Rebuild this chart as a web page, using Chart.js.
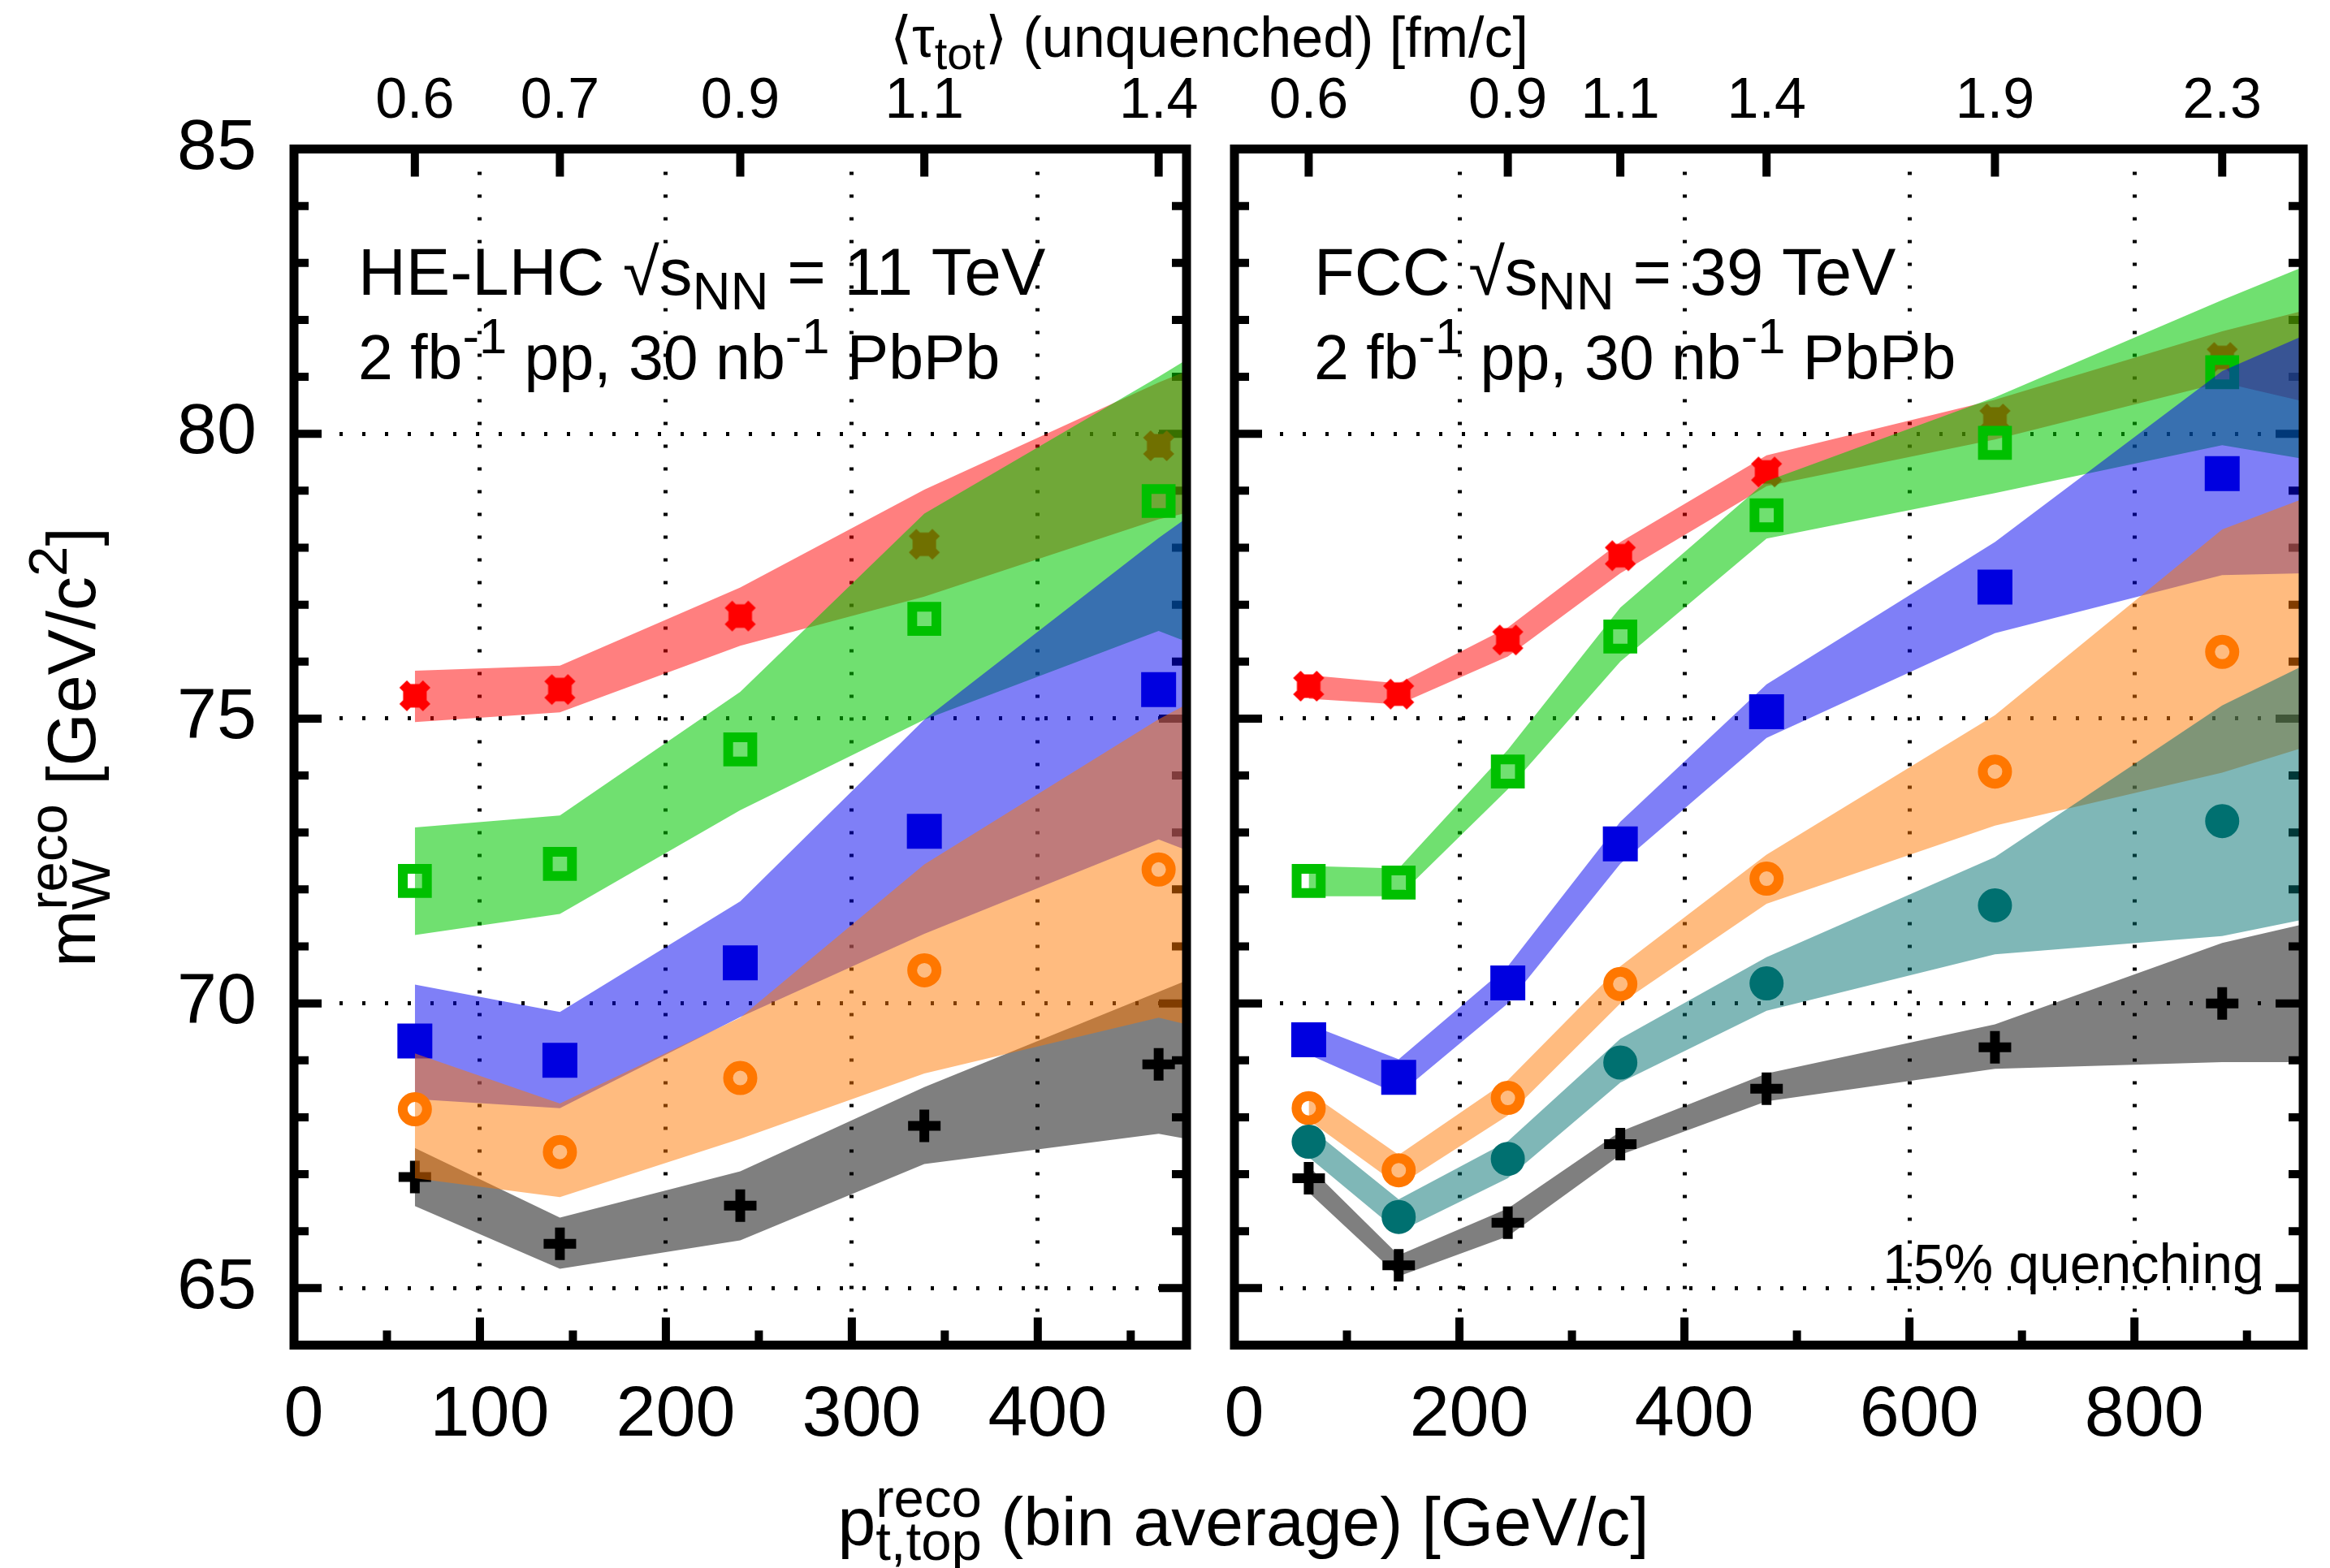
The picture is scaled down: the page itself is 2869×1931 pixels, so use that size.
<!DOCTYPE html>
<html><head><meta charset="utf-8">
<script src="https://cdn.jsdelivr.net/npm/chart.js@4.4.1/dist/chart.umd.min.js"></script>
<style>
html,body{margin:0;padding:0;background:#fff;}
#wrap{position:relative;width:2869px;height:1931px;background:#fff;}
canvas{position:absolute;left:0;top:0;}
</style></head><body>
<div id="wrap"><canvas id="cL" width="2869" height="1931"></canvas><canvas id="cR" width="2869" height="1931"></canvas></div>
<script>
// ---------------- DATA ----------------
const yTicks = [65, 70, 75, 80, 85];
// HE-LHC panel
const heX = [65, 143, 240, 339, 465];
const heBandX = [65, 143, 240, 339, 465, 480];
const heTauPos = [65, 143, 240, 339, 465];
const heTauLab = ['0.6', '0.7', '0.9', '1.1', '1.4'];
const heXTicks = [0, 100, 200, 300, 400];
const heRed    = [75.40, 75.51, 76.80, 78.06, 79.79];
const heGreen  = [72.15, 72.45, 74.46, 76.75, 78.82];
const heBlue   = [69.34, 69.00, 70.71, 73.02, 75.51];
const heOrange = [68.14, 67.39, 68.69, 70.58, 72.35];
const heBlack  = [66.95, 65.78, 66.45, 67.85, 68.93];
const heRedLo    = [74.94, 75.11, 76.28, 77.14, 78.50, 78.61];
const heRedHi    = [75.84, 75.93, 77.30, 79.02, 80.90, 81.10];
const heGreenLo  = [71.20, 71.57, 73.39, 74.98, 76.54, 76.35];
const heGreenHi  = [73.09, 73.30, 75.47, 78.60, 81.00, 81.30];
const heBlueLo   = [68.32, 68.16, 69.76, 71.22, 72.88, 72.69];
const heBlueHi   = [70.33, 69.85, 71.79, 74.98, 78.17, 78.52];
const heOrangeLo = [66.93, 66.60, 67.62, 68.77, 69.75, 69.63];
const heOrangeHi = [69.12, 68.24, 69.75, 72.44, 74.99, 75.25];
const heGrayLo   = [66.44, 65.34, 65.84, 67.18, 67.71, 67.62];
const heGrayHi   = [67.46, 66.24, 67.05, 68.53, 70.20, 70.40];
// FCC panel
const fcX = [66, 146, 243, 343, 473, 676, 878];
const fcBandX = [66, 146, 243, 343, 473, 676, 878, 950];
const fcTauPos = [66, 243, 343, 473, 676, 878];
const fcTauLab = ['0.6', '0.9', '1.1', '1.4', '1.9', '2.3'];
const fcXTicks = [0, 200, 400, 600, 800];
const fcRed    = [75.57, 75.43, 76.38, 77.86, 79.33, 80.26, 81.34];
const fcGreen  = [72.15, 72.12, 74.07, 76.44, 78.57, 79.84, 81.08];
const fcBlue   = [69.36, 68.70, 70.36, 72.80, 75.12, 77.31, 79.30];
const fcOrange = [68.16, 67.07, 68.34, 70.34, 72.19, 74.07, 76.17];
const fcTeal   = [67.57, 66.25, 67.27, 68.96, 70.35, 71.72, 73.20];
const fcBlack  = [66.93, 65.40, 66.15, 67.53, 68.50, 69.23, 70.00];
const fcRedLo    = [75.35, 75.25, 76.09, 77.55, 79.08, 79.90, 80.90, 80.57];
const fcRedHi    = [75.76, 75.62, 76.60, 78.10, 79.62, 80.60, 81.80, 82.16];
const fcGreenLo  = [71.88, 71.88, 73.76, 76.00, 78.16, 78.96, 79.80, 79.56];
const fcGreenHi  = [72.41, 72.37, 74.45, 76.95, 79.17, 80.64, 82.35, 82.93];
const fcBlueLo   = [69.10, 68.40, 70.00, 72.45, 74.66, 76.50, 77.52, 77.55];
const fcBlueHi   = [69.63, 69.02, 70.65, 73.19, 75.60, 78.10, 81.10, 81.72];
const fcOrangeLo = [67.95, 66.80, 68.03, 70.00, 71.75, 73.12, 74.05, 74.49];
const fcOrangeHi = [68.44, 67.34, 68.65, 70.65, 72.61, 75.06, 78.32, 78.86];
const fcTealLo   = [67.30, 65.99, 66.93, 68.61, 69.87, 70.86, 71.18, 71.47];
const fcTealHi   = [67.83, 66.56, 67.58, 69.38, 70.81, 72.57, 75.23, 75.93];
const fcGrayLo   = [66.68, 65.21, 65.91, 67.34, 68.28, 68.85, 68.97, 68.97];
const fcGrayHi   = [67.14, 65.58, 66.40, 67.75, 68.77, 69.63, 71.06, 71.39];

// ---------------- STYLE ----------------
const FAM = "'Liberation Sans', Arial, Helvetica, sans-serif";
const W = 2869, H = 1931;
const TOP = 183.5, BOT = 1656.5;

function makeStar(color) {
  const c = document.createElement('canvas'); c.width = c.height = 40;
  const g = c.getContext('2d'); g.strokeStyle = color; g.lineWidth = 13;
  const m = 20, a = 14.5;
  g.beginPath();
  g.moveTo(m - a, m); g.lineTo(m + a, m); g.moveTo(m, m - a); g.lineTo(m, m + a);
  g.moveTo(m - a, m - a); g.lineTo(m + a, m + a); g.moveTo(m - a, m + a); g.lineTo(m + a, m - a);
  g.stroke();
  return c;
}
const STAR = makeStar('#ff0000');

const MK = {
  red:    {band: 'rgba(255,0,0,0.5)',   pointStyle: STAR,    pointRadius: 20, pointBorderWidth: 0, color: '#ff0000', fillPt: false},
  green:  {band: 'rgba(0,200,0,0.56)',  pointStyle: 'rect',  pointRadius: 21, pointBorderWidth: 12, color: '#00c000', fillPt: false},
  blue:   {band: 'rgba(0,0,240,0.5)',   pointStyle: 'rect',  pointRadius: 29, pointBorderWidth: 2, color: '#0000e0', fillPt: true},
  gray:   {band: 'rgba(0,0,0,0.5)',     pointStyle: 'cross', pointRadius: 20, pointBorderWidth: 12, color: '#000000', fillPt: false},
  orange: {band: 'rgba(255,120,0,0.5)', pointStyle: 'circle',pointRadius: 15, pointBorderWidth: 12, color: '#ff7700', fillPt: false},
  teal:   {band: 'rgba(0,112,112,0.5)', pointStyle: 'circle',pointRadius: 20, pointBorderWidth: 2, color: '#007070', fillPt: true}
};

// ---------------- RICH TEXT ----------------
function drawRich(ctx, parts, x, y, size, align) {
  const SS = 0.8, UP = 0.42, DN = 0.22;
  const F = s => s + 'px ' + FAM;
  const items = parts.map(p => {
    if (typeof p === 'string') { ctx.font = F(size); return {t: p, w: ctx.measureText(p).width, s: size, dy: 0}; }
    const s = size * SS; ctx.font = F(s);
    if (p.sup !== undefined && p.sub !== undefined) {
      return {stack: true, sup: p.sup, sub: p.sub, s, w: Math.max(ctx.measureText(p.sup).width, ctx.measureText(p.sub).width)};
    }
    if (p.sup !== undefined) return {t: p.sup, w: ctx.measureText(p.sup).width, s, dy: -size * UP};
    return {t: p.sub, w: ctx.measureText(p.sub).width, s, dy: size * DN};
  });
  const tw = items.reduce((a, b) => a + b.w, 0);
  let cx = align === 'center' ? x - tw / 2 : (align === 'right' ? x - tw : x);
  ctx.textAlign = 'left'; ctx.textBaseline = 'alphabetic'; ctx.fillStyle = '#000';
  items.forEach(it => {
    ctx.font = F(it.s);
    if (it.stack) {
      ctx.fillText(it.sup, cx, y - size * UP);
      ctx.fillText(it.sub, cx, y + size * DN);
    } else ctx.fillText(it.t, cx, y + it.dy);
    cx += it.w;
  });
}

// ---------------- CHART BUILDER ----------------
function buildPanel(id, P) {
  const datasets = [];
  P.series.forEach((s, k) => {
    const st = MK[s.key];
    const base = 100 - 3 * k;
    const iLo = datasets.length;
    datasets.push({data: P.bandX.map((x, i) => ({x, y: s.lo[i]})), borderWidth: 0, borderColor: 'transparent',
      pointRadius: 0, fill: false, order: base + 1});
    datasets.push({data: P.bandX.map((x, i) => ({x, y: s.hi[i]})), borderWidth: 0, borderColor: 'transparent',
      pointRadius: 0, fill: iLo, backgroundColor: st.band, order: base});
    datasets.push({data: P.x.map((x, i) => ({x, y: s.v[i]})), showLine: false, order: base - 1,
      pointStyle: st.pointStyle, pointRadius: st.pointRadius, pointBorderWidth: st.pointBorderWidth,
      pointBorderColor: st.color, pointBackgroundColor: st.fillPt ? st.color : 'rgba(0,0,0,0)',
      borderColor: st.color, backgroundColor: st.fillPt ? st.color : 'rgba(0,0,0,0)'});
  });

  const framePlugin = {
    id: 'frame' + id,
    beforeDatasetsDraw(chart) {
      const ctx = chart.ctx, a = chart.chartArea, xs = chart.scales.x, ys = chart.scales.y;
      ctx.save();
      ctx.strokeStyle = '#000'; ctx.lineWidth = 10; ctx.lineCap = 'butt';
      ctx.beginPath();
      for (let v = 64; v <= 85; v++) {
        const len = v % 5 === 0 ? 34 : 18, py = ys.getPixelForValue(v);
        ctx.moveTo(a.left, py); ctx.lineTo(a.left + len, py);
        ctx.moveTo(a.right, py); ctx.lineTo(a.right - len, py);
      }
      for (let v = P.minorStep; v < P.xmax; v += P.minorStep) {
        const len = (v % P.majorStep === 0) ? 34 : 18, px = xs.getPixelForValue(v);
        ctx.moveTo(px, a.bottom); ctx.lineTo(px, a.bottom - len);
      }
      P.tauPos.forEach(v => { const px = xs.getPixelForValue(v); ctx.moveTo(px, a.top); ctx.lineTo(px, a.top + 34); });
      ctx.stroke();
      ctx.restore();
    },
    afterDraw(chart) {
      const ctx = chart.ctx, a = chart.chartArea;
      ctx.save();
      ctx.strokeStyle = '#000'; ctx.lineWidth = 11;
      ctx.strokeRect(a.left, a.top, a.right - a.left, a.bottom - a.top);
      P.texts(ctx);
      ctx.restore();
    }
  };

  return new Chart(document.getElementById(id), {
    type: 'line',
    data: {datasets},
    plugins: [framePlugin],
    options: {
      responsive: false, animation: false, devicePixelRatio: 1,
      layout: {padding: {left: P.padLeft, right: P.padRight, top: 0, bottom: 0}},
      plugins: {legend: {display: false}, tooltip: {enabled: false}, filler: {propagate: false}},
      elements: {line: {tension: 0}},
      scales: {
        x: {type: 'linear', position: 'bottom', min: 0, max: P.xmax,
          afterBuildTicks: s => { s.ticks = P.xTicks.map(v => ({value: v})); },
          afterFit: s => { s.height = H - BOT; },
          grid: {color: '#000', lineWidth: 5, drawTicks: false},
          border: {display: false, dash: [4, 24]},
          ticks: {font: {family: FAM, size: 88, lineHeight: 1}, color: '#000', padding: 43, labelOffset: 12,
            maxRotation: 0, autoSkip: false, callback: v => String(v)}},
        x2: {type: 'linear', position: 'top', min: 0, max: P.xmax,
          afterBuildTicks: s => { s.ticks = P.tauPos.map(v => ({value: v})); },
          afterFit: s => { s.height = TOP; },
          grid: {display: false, drawTicks: false}, border: {display: false},
          ticks: {font: {family: FAM, size: 70, lineHeight: 1}, color: '#000', padding: 23,
            maxRotation: 0, autoSkip: false, callback: (v, i) => P.tauLab[i]}},
        y: {type: 'linear', position: 'left', min: 64, max: 85,
          afterBuildTicks: s => { s.ticks = yTicks.map(v => ({value: v})); },
          afterFit: s => { s.width = P.yWidth; },
          grid: {color: '#000', lineWidth: 5, drawTicks: false},
          border: {display: false, dash: [4, 24]},
          ticks: {display: P.showY, font: {family: FAM, size: 88, lineHeight: 1}, color: '#000', padding: 46,
            callback: v => String(v)}}
      }
    }
  });
}

buildPanel('cL', {
  x: heX, bandX: heBandX, xmax: 480, xTicks: heXTicks, tauPos: heTauPos, tauLab: heTauLab,
  minorStep: 50, majorStep: 100, padLeft: 0, padRight: W - 1461, yWidth: 362, showY: true,
  series: [
    {key: 'red', v: heRed, lo: heRedLo, hi: heRedHi},
    {key: 'green', v: heGreen, lo: heGreenLo, hi: heGreenHi},
    {key: 'blue', v: heBlue, lo: heBlueLo, hi: heBlueHi},
    {key: 'gray', v: heBlack, lo: heGrayLo, hi: heGrayHi},
    {key: 'orange', v: heOrange, lo: heOrangeLo, hi: heOrangeHi}
  ],
  texts: ctx => {
    drawRich(ctx, ['HE-LHC \u221As', {sub: 'NN'}, ' = 11 TeV'], 441, 363, 81.5, 'left');
    drawRich(ctx, ['2 fb', {sup: '-1'}, ' pp, 30 nb', {sup: '-1'}, ' PbPb'], 441, 467, 77, 'left');
    drawRich(ctx, ['\u27E8\u03C4', {sub: 'tot'}, '\u27E9 (unquenched) [fm/c]'], 1489, 70, 70, 'center');
    drawRich(ctx, ['p', {sup: 'reco', sub: 't,top'}, ' (bin average) [GeV/c]'], 1531, 1903, 84, 'center');
    ctx.save(); ctx.translate(117, 920); ctx.rotate(-Math.PI / 2);
    drawRich(ctx, ['m', {sup: 'reco', sub: 'W'}, ' [GeV/c', {sup: '2'}, ']'], 0, 0, 84, 'center');
    ctx.restore();
  }
});

buildPanel('cR', {
  x: fcX, bandX: fcBandX, xmax: 950, xTicks: fcXTicks, tauPos: fcTauPos, tauLab: fcTauLab,
  minorStep: 100, majorStep: 200, padLeft: 1520, padRight: W - 2857, yWidth: 0, showY: false,
  series: [
    {key: 'red', v: fcRed, lo: fcRedLo, hi: fcRedHi},
    {key: 'green', v: fcGreen, lo: fcGreenLo, hi: fcGreenHi},
    {key: 'blue', v: fcBlue, lo: fcBlueLo, hi: fcBlueHi},
    {key: 'gray', v: fcBlack, lo: fcGrayLo, hi: fcGrayHi},
    {key: 'orange', v: fcOrange, lo: fcOrangeLo, hi: fcOrangeHi},
    {key: 'teal', v: fcTeal, lo: fcTealLo, hi: fcTealHi}
  ],
  texts: ctx => {
    drawRich(ctx, ['FCC \u221As', {sub: 'NN'}, ' = 39 TeV'], 1618, 363, 81.5, 'left');
    drawRich(ctx, ['2 fb', {sup: '-1'}, ' pp, 30 nb', {sup: '-1'}, ' PbPb'], 1618, 467, 77, 'left');
    drawRich(ctx, ['15% quenching'], 2787, 1580, 68, 'right');
  }
});
</script>
</body></html>
